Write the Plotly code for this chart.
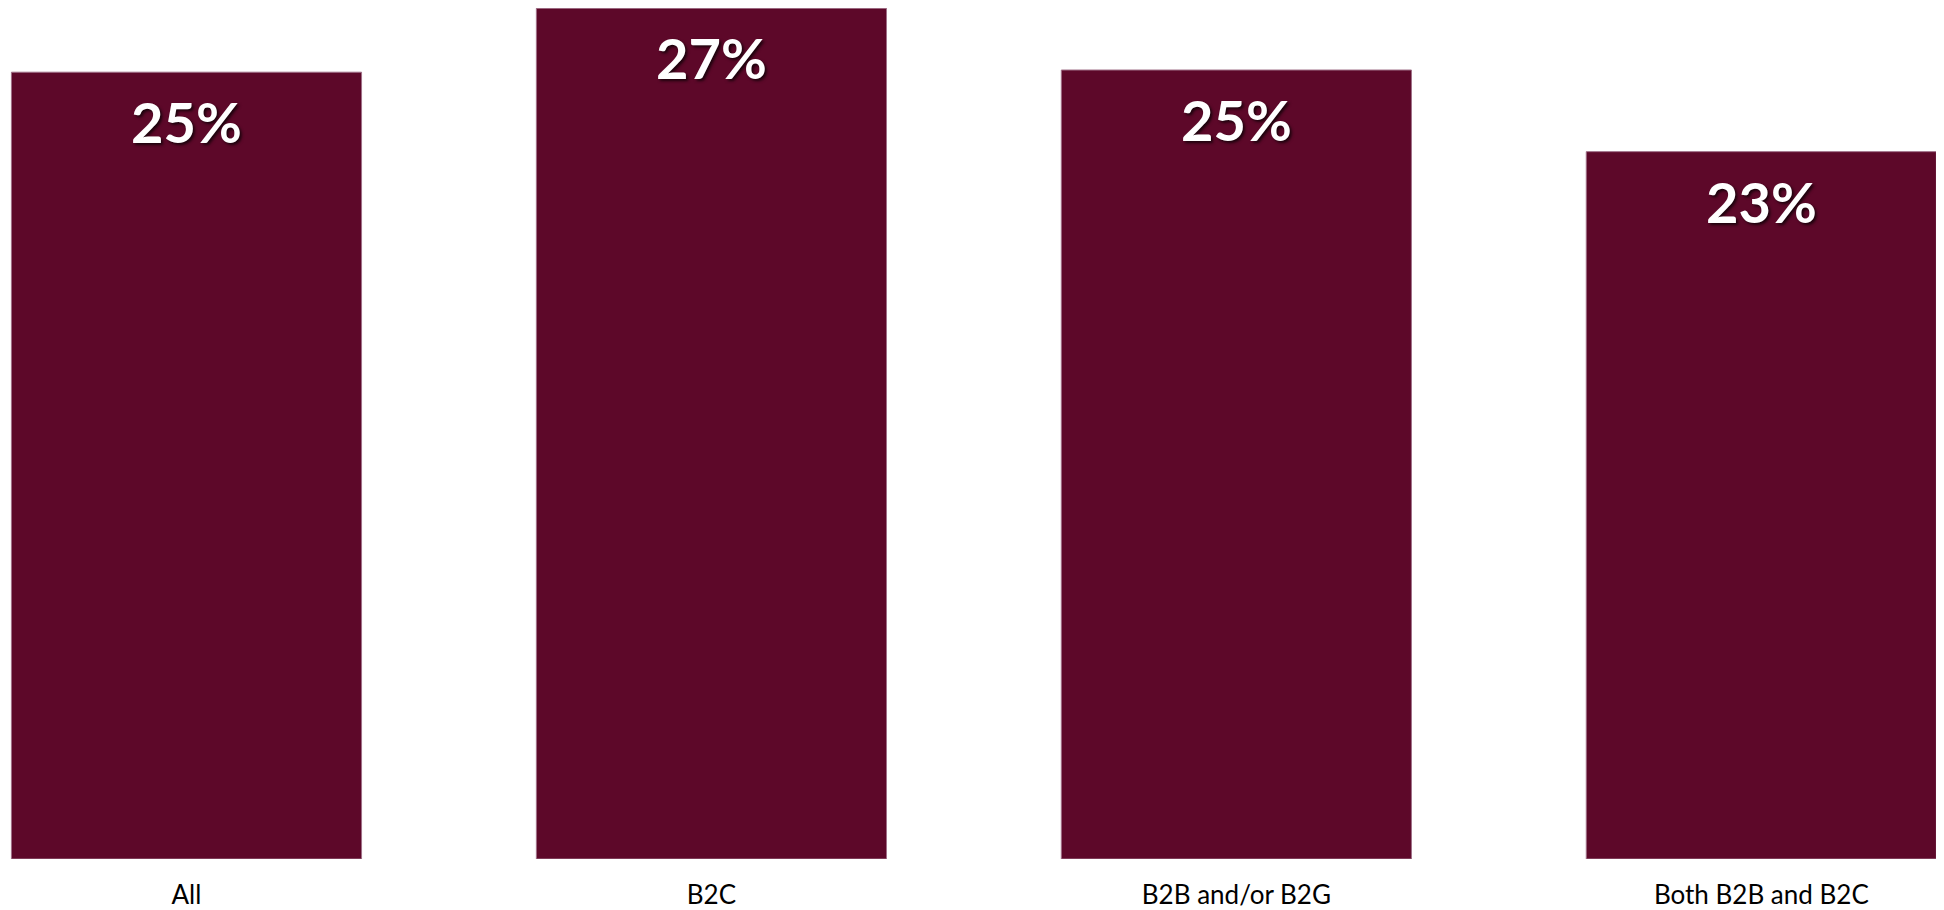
import plotly.graph_objects as go

categories = ["All", "B2C", "B2B and/or B2G", "Both B2B and B2C"]
values = [25.25, 27.3, 25.32, 22.7]
labels = ["25%", "27%", "25%", "23%"]

bar_color = "#5D0829"

fig = go.Figure()
fig.add_trace(go.Bar(
    x=categories,
    y=values,
    marker=dict(color=bar_color, line=dict(color="#a07088", width=1)),
    hoverinfo="skip",
))

for c, v, t in zip(categories, values, labels):
    fig.add_annotation(
        x=c, y=v, text="<b>" + t + "</b>", showarrow=False,
        yanchor="top", yshift=-14,
        font=dict(family="Lato", size=56, color="white",
                  shadow="2px 2px 3px rgba(0,0,0,0.7)"),
    )

fig.update_layout(
    width=1936, height=902,
    margin=dict(l=0, r=0, t=0, b=51),
    paper_bgcolor="white", plot_bgcolor="white",
    bargap=0.333,
    showlegend=False,
    xaxis=dict(range=[-0.340, 3.348], showgrid=False, zeroline=False,
               showline=False, ticks="", ticklabelstandoff=18,
               tickfont=dict(family="Lato", size=26, color="black")),
    yaxis=dict(range=[0, 27.31], showgrid=False, zeroline=False,
               showline=False, showticklabels=False, ticks=""),
)

fig.write_html("out.html")
